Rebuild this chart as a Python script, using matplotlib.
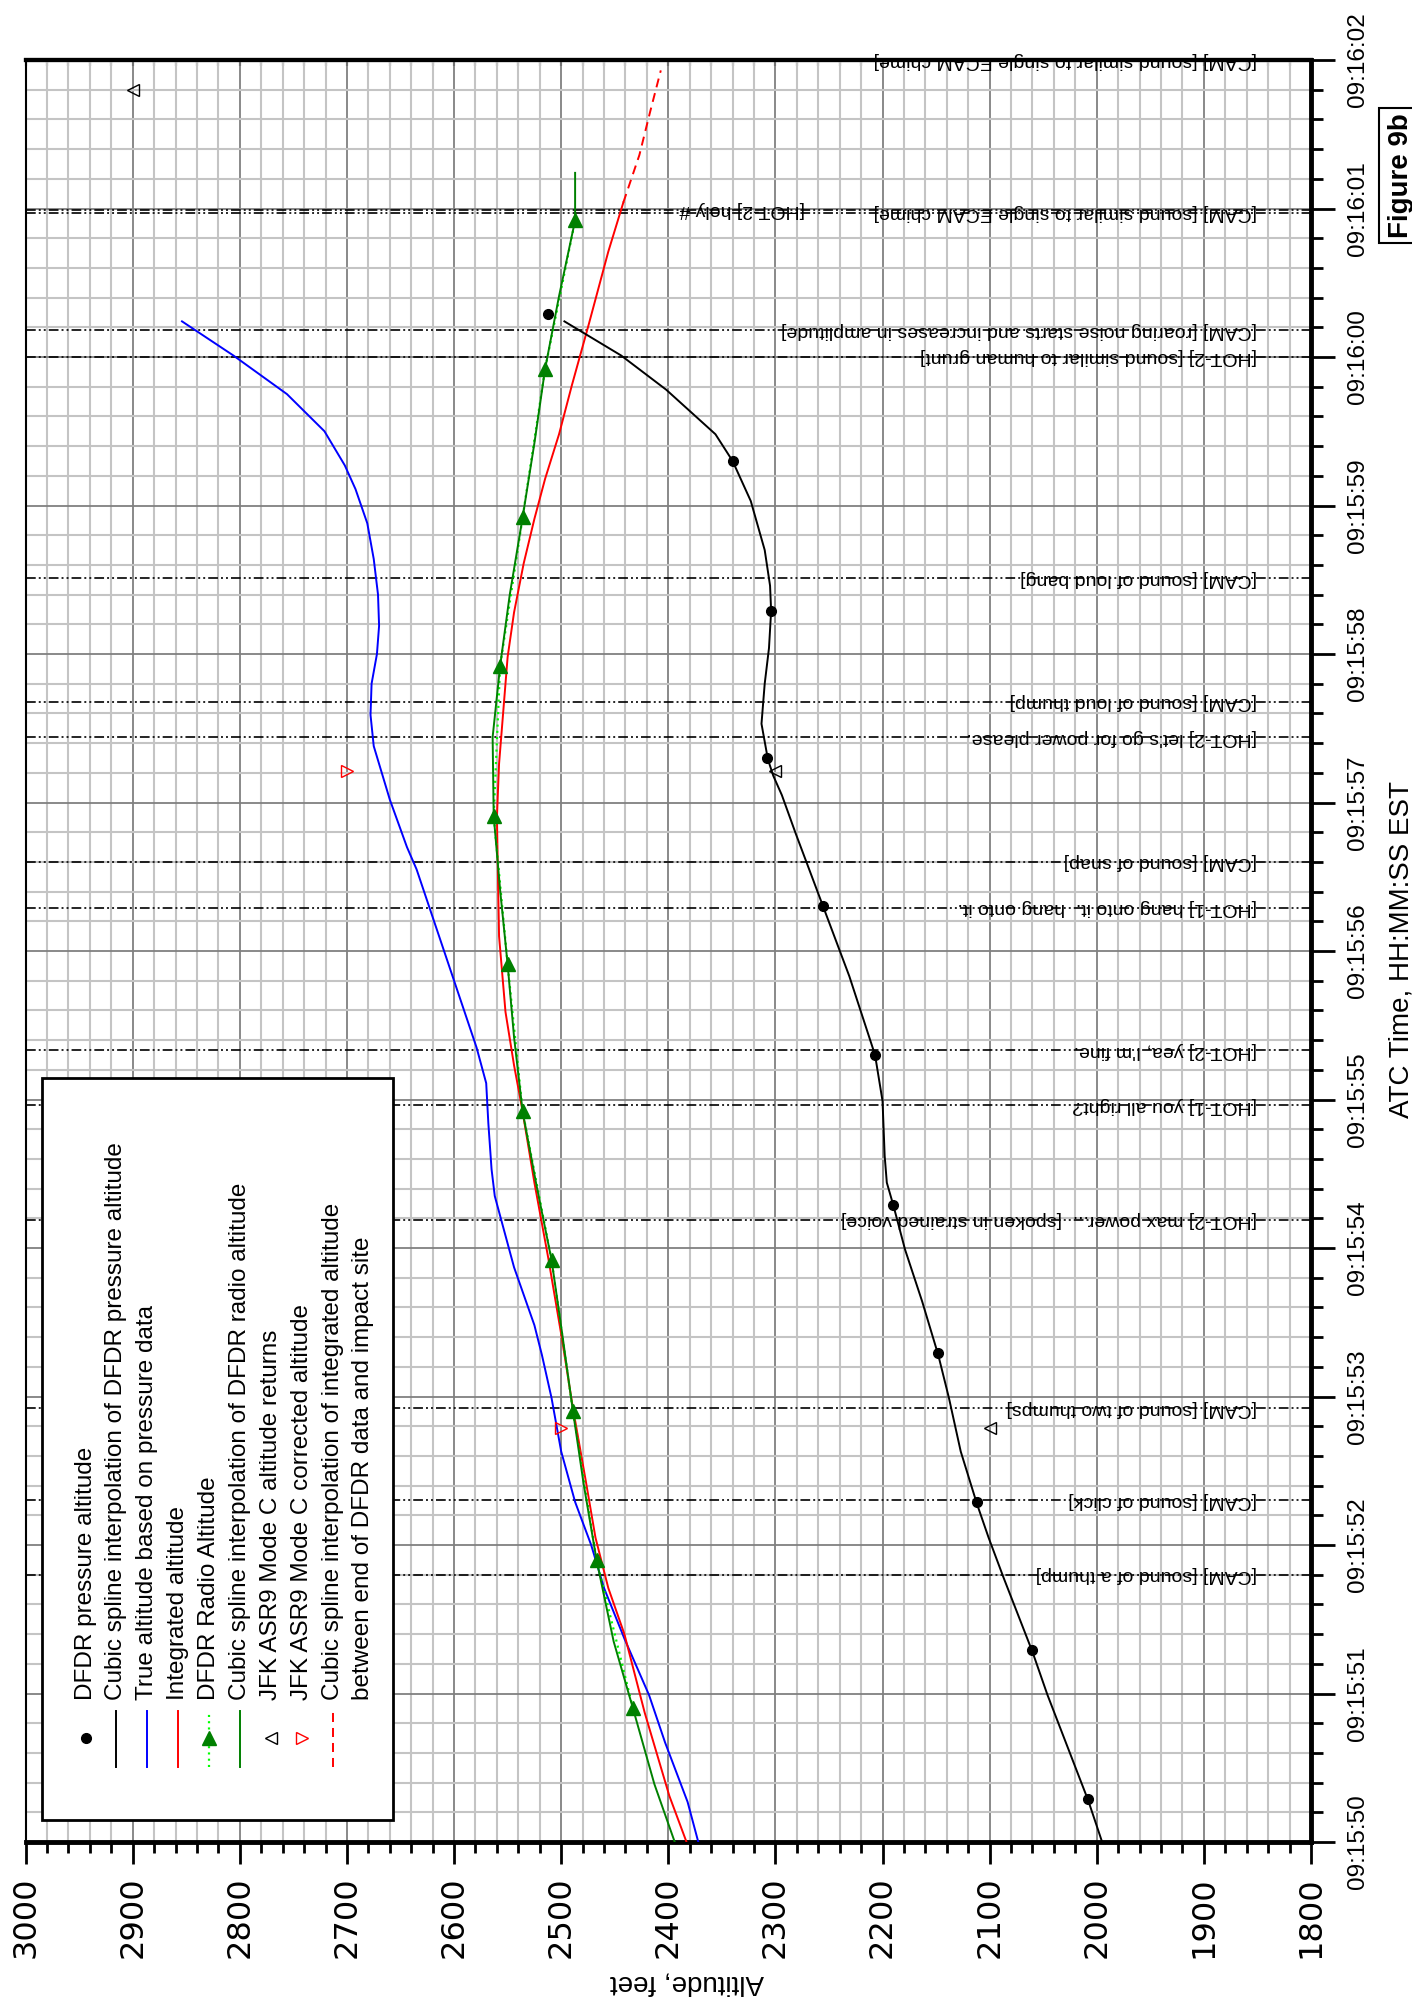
import matplotlib
matplotlib.use("Agg")
import matplotlib.pyplot as plt
from matplotlib.lines import Line2D
from matplotlib.patches import Rectangle
from matplotlib.ticker import MultipleLocator

plt.rcParams["font.family"] = ["Liberation Sans", "DejaVu Sans"]
plt.rcParams["lines.scale_dashes"] = False

# time is seconds after 09:15:50 EST, altitude in feet
time_ticks = [0, 1, 2, 3, 4, 5, 6, 7, 8, 9, 10, 11, 12]
time_labels = ["09:15:50", "09:15:51", "09:15:52", "09:15:53", "09:15:54", "09:15:55",
               "09:15:56", "09:15:57", "09:15:58", "09:15:59", "09:16:00", "09:16:01",
               "09:16:02"]
alt_ticks = [3000, 2900, 2800, 2700, 2600, 2500, 2400, 2300, 2200, 2100, 2000, 1900, 1800]

# DFDR pressure altitude samples
pressure_t = [0.29, 1.29, 2.29, 3.29, 4.29, 5.30, 6.30, 7.30, 8.29, 9.30, 10.29]
pressure_alt = [2008, 2060, 2112, 2148, 2190, 2207, 2256, 2308, 2304, 2340, 2512]

# cubic spline through pressure altitude
pspline_t = [0.00, 0.28, 0.99, 1.28, 1.78, 2.05, 2.28, 2.63, 2.99, 3.28, 3.64, 3.99, 4.29,
             4.44, 4.62, 4.99, 5.30, 5.83, 6.31, 6.79, 7.05, 7.18, 7.29, 7.53, 7.80, 8.04,
             8.29, 8.46, 8.70, 9.03, 9.30, 9.48, 9.78, 10.01, 10.24]
pspline_alt = [1995, 2008, 2046, 2060, 2087, 2101, 2112, 2127, 2138, 2148, 2163, 2179, 2190,
               2196, 2198, 2200, 2207, 2231, 2256, 2281, 2294, 2302, 2307, 2313, 2310, 2306,
               2304, 2305, 2310, 2323, 2340, 2356, 2402, 2444, 2497]

# true altitude based on pressure data
true_t = [0.00, 0.27, 0.67, 0.99, 1.37, 1.71, 2.00, 2.29, 2.63, 2.99, 3.28, 3.48, 3.87, 4.35,
          4.53, 4.84, 5.11, 5.35, 5.80, 6.55, 6.70, 7.02, 7.38, 7.59, 7.80, 8.00, 8.19, 8.40,
          8.64, 8.88, 9.11, 9.27, 9.50, 9.75, 10.01, 10.24]
true_alt = [2372, 2382, 2403, 2418, 2441, 2460, 2472, 2487, 2500, 2509, 2518, 2525, 2544, 2562,
            2565, 2568, 2570, 2579, 2600, 2635, 2644, 2660, 2675, 2678, 2677, 2672, 2670, 2671,
            2675, 2681, 2692, 2702, 2721, 2756, 2806, 2854]

# integrated altitude
integ_t = [0.00, 0.31, 0.87, 1.40, 1.71, 2.05, 2.43, 2.92, 3.42, 3.93, 4.44, 4.96, 5.23, 5.59,
           6.10, 6.49, 6.90, 7.26, 7.62, 7.98, 8.28, 8.61, 8.91, 9.18, 9.48, 9.81, 10.20,
           10.71, 11.04]
integ_alt = [2383, 2399, 2422, 2441, 2456, 2468, 2477, 2489, 2500, 2512, 2525, 2537, 2544, 2552,
             2558, 2559, 2560, 2558, 2554, 2550, 2544, 2535, 2525, 2515, 2502, 2490, 2475,
             2456, 2442]

# spline of integrated altitude, end of DFDR data to impact site
impact_t = [11.04, 11.36, 11.65, 11.93]
impact_alt = [2442, 2427, 2417, 2407]

# DFDR radio altitude samples
radio_t = [0.90, 1.90, 2.90, 3.92, 4.92, 5.91, 6.91, 7.92, 8.92, 9.92, 10.92]
radio_alt = [2433, 2467, 2489, 2509, 2536, 2550, 2563, 2557, 2536, 2515, 2487]

# cubic spline through radio altitude
rspline_t = [0.00, 0.39, 0.90, 1.35, 1.90, 2.41, 2.90, 3.42, 3.92, 4.42, 4.92, 5.42, 5.91,
             6.41, 6.91, 7.44, 7.92, 8.40, 8.92, 9.42, 9.92, 10.41, 10.92, 11.24]
rspline_alt = [2394, 2413, 2433, 2451, 2467, 2479, 2489, 2499, 2509, 2523, 2536, 2544, 2550,
               2557, 2563, 2564, 2557, 2548, 2536, 2525, 2515, 2502, 2487, 2487]

# JFK ASR9 Mode C returns and corrected values
asr_t = [2.79, 7.21, 11.80]
asr_alt = [2100, 2300, 2900]
asr_corr_alt = [2500, 2700, 3300]

# CVR events
event_t = [1.80, 2.30, 2.92, 4.19, 4.96, 5.33, 6.29, 6.60, 7.44, 7.68, 8.51, 10.00, 10.18,
           10.97, 10.99, 12.00]
event_text = [
    "[CAM] [sound of a thump]",
    "[CAM] [sound of click]",
    "[CAM] [sound of two thumps]",
    "[HOT-2] max power...  [spoken in strained voice]",
    "[HOT-1] you all right?",
    "[HOT-2] yea, I'm fine.",
    "[HOT-1] hang onto it.  hang onto it.",
    "[CAM] [sound of snap]",
    "[HOT-2] let's go for power please.",
    "[CAM] [sound of loud thump]",
    "[CAM] [sound of loud bang]",
    "[HOT-2] [sound similar to human grunt]",
    "[CAM] [roaring noise starts and increases in amplitude]",
    "[CAM] [sound similar to single ECAM chime]",
    "[HOT-2] holy #",
    "[CAM] [sound similar to single ECAM chime]",
]
event_text_alt = [1850] * 14 + [2272, 1850]

W, H = 1412, 2005


def fx(px):
    return px / W


def fy(py):
    return 1 - py / H


fig = plt.figure(figsize=(W / 100, H / 100), dpi=100)
ax = fig.add_axes([fx(25.6), fy(1842), (1311 - 25.6) / W, (1842 - 60) / H])

ax.set_xlim(3000, 1800)
ax.set_ylim(0, 12)
ax.set_xticks(alt_ticks)
ax.set_xticklabels([str(a) for a in alt_ticks], family="DejaVu Sans")
ax.xaxis.set_minor_locator(MultipleLocator(20))
ax.set_yticks(time_ticks)
ax.set_yticklabels(time_labels, rotation=90, va="center")
ax.yaxis.set_minor_locator(MultipleLocator(0.2))
ax.yaxis.tick_right()

ax.tick_params(axis="y", which="major", direction="out", length=17, width=2, pad=9,
               labelsize=17.5, left=False, right=True)
ax.tick_params(axis="y", which="minor", direction="out", length=8.5, width=2,
               left=False, right=True)
ax.tick_params(axis="x", which="major", direction="out", length=16, width=2, pad=9,
               labelsize=23, labelrotation=90)
ax.tick_params(axis="x", which="minor", direction="out", length=8, width=2)

top = ax.secondary_xaxis("top")
top.set_xticks(alt_ticks)
top.xaxis.set_minor_locator(MultipleLocator(20))
top.tick_params(which="both", direction="in", length=4, width=1.5, labeltop=False)
top.spines["top"].set_linewidth(3)

ax.set_axisbelow(True)
ax.grid(which="minor", color="#c4c4c4", lw=1.5)
ax.grid(which="major", color="#808080", lw=1.3)
ax.spines["bottom"].set_linewidth(3.5)
ax.spines["right"].set_linewidth(3.5)
ax.spines["top"].set_linewidth(3)
ax.spines["left"].set_linewidth(1.5)

# CVR event lines and text
for t, s, xa in zip(event_t, event_text, event_text_alt):
    ax.axhline(t, color="black", lw=1.2, ls=(0, (7, 2.2, 1.4, 2.2, 1.4, 2.2)), zorder=2)
    ax.text(xa, t, s, rotation=180, ha="right", va="center", fontsize=14, zorder=4)

ax.plot(true_alt, true_t, color="blue", lw=1.4, zorder=3)
ax.plot(integ_alt, integ_t, color="red", lw=1.4, zorder=3)
ax.plot(impact_alt, impact_t, color="red", lw=1.4, ls=(0, (6.5, 4.3)), zorder=3)
ax.plot(radio_alt, radio_t, color="lime", lw=1.6, ls=(0, (1.5, 3)), zorder=3)
ax.plot(rspline_alt, rspline_t, color="green", lw=1.4, zorder=3)
ax.plot(radio_alt, radio_t, ls="none", marker="^", ms=10, color="green", zorder=4)
ax.plot(pspline_alt, pspline_t, color="black", lw=1.4, zorder=3)
ax.plot(pressure_alt, pressure_t, ls="none", marker="o", ms=7, color="black", zorder=4)
ax.plot(asr_alt, asr_t, ls="none", marker="<", ms=8, mfc="none", mec="black", mew=1, zorder=4)
ax.plot(asr_corr_alt, asr_t, ls="none", marker=">", ms=8, mfc="none", mec="red", mew=1,
        zorder=4)

# legend (drawn by hand, the page is turned on its side)
fig.add_artist(Rectangle((fx(42), fy(1820)), fx(393) - fx(42), fy(1078) - fy(1820),
                         transform=fig.transFigure, facecolor="white", edgecolor="black",
                         lw=2, zorder=5))
leg_x = [86, 116, 147, 178, 209, 240, 271, 302, 333, 363]
leg_labels = [
    "DFDR pressure altitude",
    "Cubic spline interpolation of DFDR pressure altitude",
    "True altitude based on pressure data",
    "Integrated altitude",
    "DFDR Radio Altitude",
    "Cubic spline interpolation of DFDR radio altitude",
    "JFK ASR9 Mode C altitude returns",
    "JFK ASR9 Mode C corrected altitude",
    "Cubic spline interpolation of integrated altitude",
    "between end of DFDR data and impact site",
]
leg_styles = [
    dict(ls="none", marker="o", ms=7, color="black"),
    dict(color="black", lw=1.4),
    dict(color="blue", lw=1.4),
    dict(color="red", lw=1.4),
    dict(color="lime", lw=1.6, ls=(0, (1.5, 3))),
    dict(color="green", lw=1.4),
    dict(ls="none", marker="<", ms=8, mfc="none", mec="black", mew=1),
    dict(ls="none", marker=">", ms=8, mfc="none", mec="red", mew=1),
    dict(color="red", lw=1.4, ls=(0, (6.5, 4.3))),
    None,
]
for x, lab, st in zip(leg_x, leg_labels, leg_styles):
    if st is not None:
        if st.get("ls") == "none":
            fig.add_artist(Line2D([fx(x)], [fy(1738)], transform=fig.transFigure, zorder=6, **st))
        else:
            fig.add_artist(Line2D([fx(x), fx(x)], [fy(1767), fy(1711)],
                                  transform=fig.transFigure, zorder=6, **st))
    fig.text(fx(x), fy(1700), lab, rotation=90, ha="center", va="bottom", fontsize=17.5,
             zorder=6)
fig.add_artist(Line2D([fx(209)], [fy(1738)], transform=fig.transFigure, ls="none",
                      marker="^", ms=10, color="green", zorder=7))

# axis titles
fig.text(fx(687), fy(1982), "Altitude, feet", rotation=180, ha="center", va="center",
         fontsize=20)
fig.text(fx(1401), fy(950), "ATC Time, HH:MM:SS EST", rotation=90, ha="center",
         va="center", fontsize=20)

# figure tag, cut by the page edge as on the scanned page
fig.add_artist(Rectangle((fx(1379), fy(243)), fx(80), fy(108) - fy(243),
                         transform=fig.transFigure, facecolor="white", edgecolor="black",
                         lw=1.5, zorder=5))
fig.text(fx(1401), fy(176), "Figure 9b", rotation=90, ha="center", va="center",
         fontsize=20, fontweight="bold", zorder=6)

fig.savefig("out.png", dpi=100)
